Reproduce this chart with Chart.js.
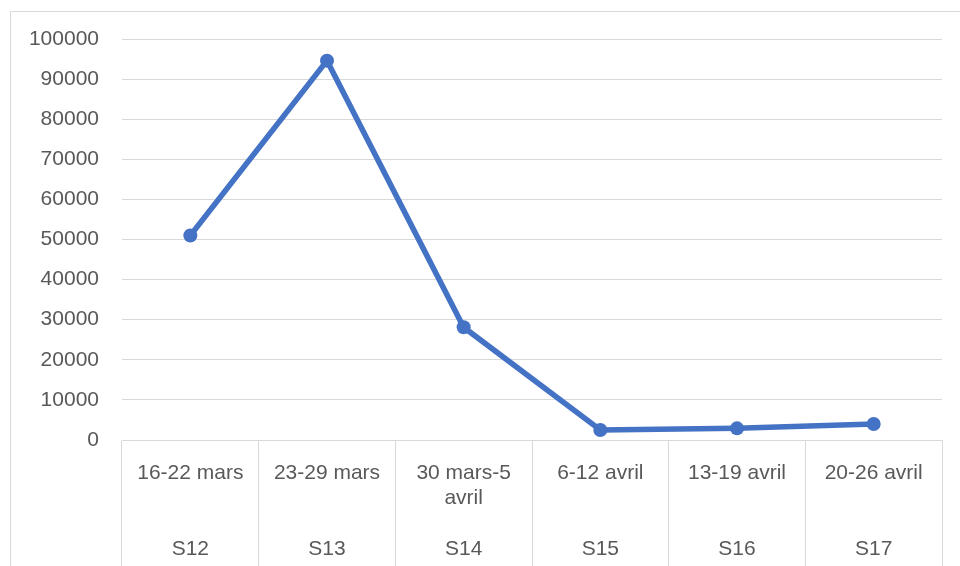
<!DOCTYPE html>
<html>
<head>
<meta charset="utf-8">
<script src="https://cdn.jsdelivr.net/npm/chart.js@4"></script>
<style>
    html, body { margin: 0; padding: 0; background: #fff; overflow: hidden; }
    #wrap { position: relative; width: 960px; height: 566px; }
    #frame { position: absolute; left: 10px; top: 11px; width: 1000px; height: 600px; border: 1px solid #d9d9d9; pointer-events: none; }
</style>
</head>
<body>
<div id="wrap">
    <canvas id="weeklyChart" width="960" height="566"></canvas>
    <div id="frame"></div>
</div>
<script>
// Données
const dateRanges = [['16-22 mars'], ['23-29 mars'], ['30 mars-5', 'avril'], ['6-12 avril'], ['13-19 avril'], ['20-26 avril']];
const weeks = ['S12', 'S13', 'S14', 'S15', 'S16', 'S17'];
const values = [51000, 94600, 28100, 2500, 2900, 4000];
const yTicks = [0, 10000, 20000, 30000, 40000, 50000, 60000, 70000, 80000, 90000, 100000];

// étiquettes sur deux niveaux : dates puis semaine (4 lignes)
const labels = dateRanges.map((d, i) => {
    const lines = d.slice();
    while (lines.length < 3) lines.push('');
    lines.push(weeks[i]);
    return lines;
});

const textColor = '#595959';
const gridColor = '#d9d9d9';
const labelFont = { family: "'Liberation Sans', Arial, sans-serif", size: 21, lineHeight: 1.21 };

const ctx = document.getElementById('weeklyChart').getContext('2d');
new Chart(ctx, {
    type: 'line',
    data: {
        labels: labels,
        datasets: [{
            data: values,
            borderColor: '#4472C4',
            backgroundColor: '#4472C4',
            borderWidth: 5.5,
            pointRadius: 7,
            pointHoverRadius: 7,
            pointBackgroundColor: '#4472C4',
            pointBorderWidth: 0,
            tension: 0
        }]
    },
    options: {
        responsive: false,
        animation: false,
        plugins: {
            legend: { display: false },
            tooltip: { enabled: false }
        },
        layout: {
            padding: { top: 39, right: 18, bottom: 0, left: 0 }
        },
        scales: {
            x: {
                offset: true,
                grid: {
                    offset: true,
                    drawOnChartArea: false,
                    drawTicks: true,
                    tickLength: 126,
                    color: gridColor,
                    lineWidth: 1
                },
                border: { display: true, color: gridColor },
                ticks: {
                    autoSkip: false,
                    maxRotation: 0,
                    minRotation: 0,
                    color: textColor,
                    font: labelFont,
                    padding: -106
                },
                afterFit: function (scale) { scale.height = 126; }
            },
            y: {
                min: 0,
                max: 100000,
                afterBuildTicks: function (scale) {
                    scale.ticks = yTicks.map(v => ({ value: v }));
                },
                grid: {
                    color: gridColor,
                    lineWidth: 1,
                    drawTicks: false
                },
                border: { display: false },
                ticks: {
                    color: textColor,
                    font: { family: "'Liberation Sans', Arial, sans-serif", size: 21 },
                    padding: 23,
                    callback: function (value) { return String(value); }
                },
                afterFit: function (scale) { scale.width = 122; }
            }
        }
    }
});
</script>
</body>
</html>
